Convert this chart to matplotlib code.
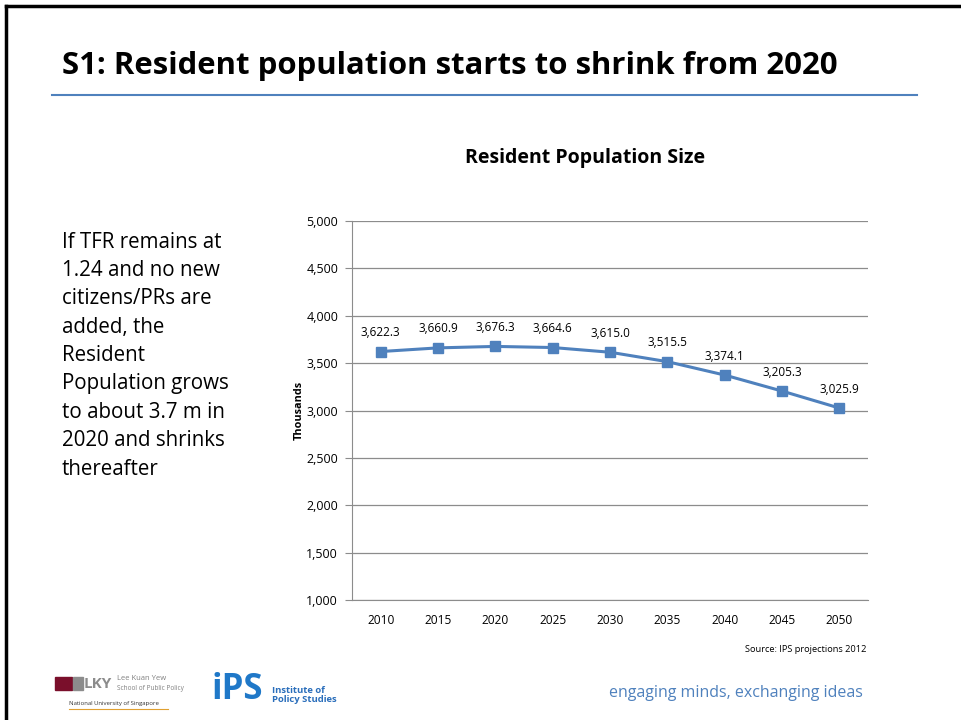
import matplotlib
matplotlib.use("Agg")
import matplotlib.pyplot as plt
from matplotlib.patches import Rectangle
from matplotlib.lines import Line2D
from matplotlib.ticker import FuncFormatter

years = ["2010", "2015", "2020", "2025", "2030", "2035", "2040", "2045", "2050"]
population = [3622.3, 3660.9, 3676.3, 3664.6, 3615.0, 3515.5, 3374.1, 3205.3, 3025.9]
y_ticks = [1000, 1500, 2000, 2500, 3000, 3500, 4000, 4500, 5000]

slide_title = "S1: Resident population starts to shrink from 2020"
chart_title = "Resident Population Size"
y_label = "Thousands"
side_text = ["If TFR remains at", "1.24 and no new", "citizens/PRs are", "added, the", "Resident",
             "Population grows", "to about 3.7 m in", "2020 and shrinks", "thereafter"]
source = "Source: IPS projections 2012"
tagline = "engaging minds, exchanging ideas"

FONT = ["Open Sans", "DejaVu Sans"]
plt.rcParams['font.family'] = FONT
BLUE = "#4F81BD"
W, H = 961, 720

fig = plt.figure(figsize=(9.61, 7.2), dpi=100)

def fx(x):
    return x / W

def fy(y):
    return 1 - y / H

# slide border (left and top)
fig.add_artist(Line2D([fx(6), fx(6)], [fy(6), 0], color="black", lw=2.5))
fig.add_artist(Line2D([fx(6), 1], [fy(6), fy(6)], color="black", lw=2.5))

# slide title
fig.text(fx(62), fy(66), slide_title, fontsize=22.4, fontweight="bold", ha="left", va="center",
         color="black")
fig.add_artist(Line2D([fx(52), fx(917)], [fy(95), fy(95)], color=BLUE, lw=1.5))

# side text
for i, line in enumerate(side_text):
    fig.text(fx(62), fy(242 + i * 28.4), line, fontsize=14.8, ha="left", va="center")

# chart
ax = fig.add_axes([fx(352), fy(600), fx(868) - fx(352), fy(221) - fy(600)])
x = list(range(len(years)))
ax.plot(x, population, color=BLUE, lw=2.2, marker="s", markersize=7.5, markerfacecolor=BLUE,
        markeredgecolor=BLUE)
for xi, v in zip(x, population):
    ax.annotate(f"{v:,.1f}", (xi, v), xytext=(0, 9), textcoords="offset points",
                ha="center", va="bottom", fontsize=8.5)
ax.set_xlim(-0.5, len(years) - 0.5)
ax.set_ylim(1000, 5000)
ax.set_yticks(y_ticks)
ax.yaxis.set_major_formatter(FuncFormatter(lambda v, p: f"{int(v):,}"))
ax.set_xticks(x)
ax.set_xticklabels(years)
ax.grid(axis="y", color="#8C8C8C", lw=0.9)
ax.set_axisbelow(True)
for s in ["top", "right"]:
    ax.spines[s].set_visible(False)
ax.spines["left"].set_color("#8C8C8C")
ax.spines["bottom"].set_color("#8C8C8C")
ax.tick_params(axis="y", length=5, color="#8C8C8C", labelsize=9, pad=5)
ax.tick_params(axis="x", length=0, labelsize=8.6, pad=10)
ax.set_ylabel(y_label, fontsize=7.8, fontweight="bold", labelpad=1)

fig.text(fx(585), fy(158), chart_title, fontsize=14, fontweight="bold", ha="center", va="center")
fig.text(fx(866), fy(649), source, fontsize=6.7, ha="right", va="center")
fig.text(fx(863), fy(693), tagline, fontsize=11.5, color=BLUE, ha="right", va="center")

# LKY logo approximation
fig.add_artist(Rectangle((fx(55), fy(690)), fx(17), fy(677) - fy(690), color="#7A0F2B"))
fig.add_artist(Rectangle((fx(73), fy(690)), fx(10), fy(677) - fy(690), color="#8C8C8C"))
fig.text(fx(84), fy(684), "LKY", fontsize=11, fontweight="bold", color="#8C8C8C", ha="left", va="center")
fig.text(fx(117), fy(679), "Lee Kuan Yew", fontsize=5.5, color="#808080", ha="left", va="center")
fig.text(fx(117), fy(688), "School of Public Policy", fontsize=4.7, color="#808080", ha="left", va="center")
fig.text(fx(69), fy(704), "National University of Singapore", fontsize=4.3, color="#333333", ha="left", va="center")
fig.add_artist(Line2D([fx(69), fx(168)], [fy(709), fy(709)], color="#E0A030", lw=0.8))

# IPS logo approximation
fig.text(fx(212), fy(690), "iPS", fontsize=25, fontweight="bold", color="#1F78C8", ha="left", va="center")
fig.text(fx(272), fy(695), "Institute of\nPolicy Studies", fontsize=6.8, fontweight="bold",
         color="#2A6EBB", ha="left", va="center", linespacing=1.0)

fig.savefig("out.png", dpi=100)
